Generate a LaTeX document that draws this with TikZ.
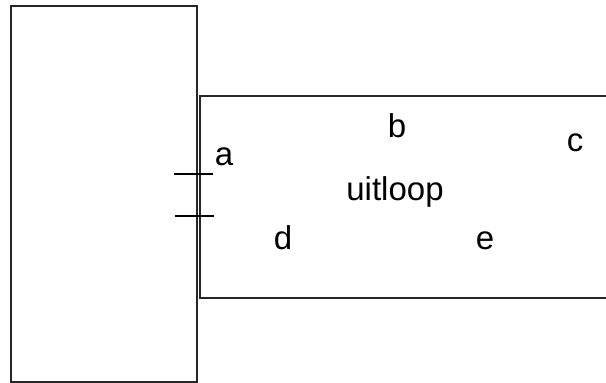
\documentclass[tikz,border=0pt]{standalone}
\usepackage{fontspec}
\setmainfont{Liberation Sans}
\begin{document}
\begin{tikzpicture}[x=1pt,y=-1pt,
  box/.style={draw=black!85,line width=2pt},
  tick/.style={draw=black,line width=1.6pt},
  lbl/.style={anchor=base,inner sep=0pt,font=\fontsize{33}{38}\selectfont}]
\clip (0,0) rectangle (606,383);
\draw[box] (10.5,5.5) rectangle (197,381.5);
\draw[box] (200,96) rectangle (620,297.5);
\coordinate (t1a) at (174,174);
\coordinate (t1b) at (213,174);
\coordinate (t2a) at (175,216);
\coordinate (t2b) at (214,216);
\draw[tick] (t1a) -- (t1b);
\draw[tick] (t2a) -- (t2b);
\node[lbl] (a) at (224,165) {a};
\node[lbl] (b) at (397,137) {b};
\node[lbl] (c) at (575,151) {c};
\node[lbl] (u) at (395,200.5) {uitloop};
\node[lbl] (d) at (283,249) {d};
\node[lbl] (e) at (485,249) {e};
\end{tikzpicture}
\end{document}
